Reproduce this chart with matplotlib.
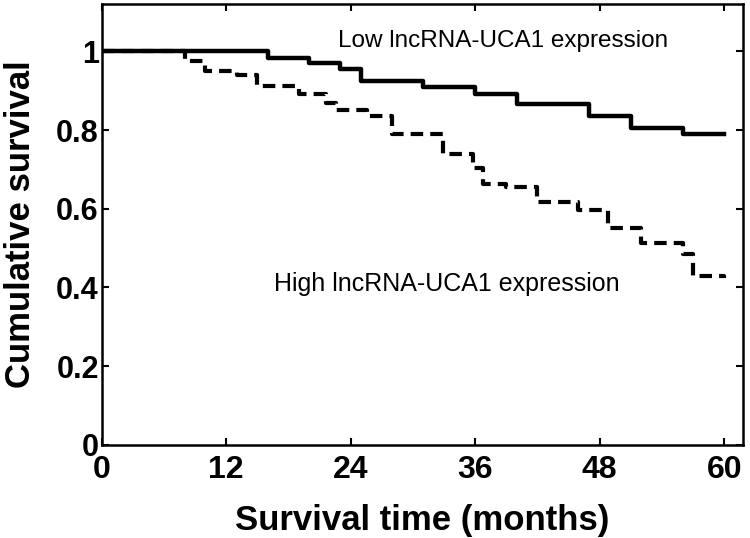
import numpy as np
import matplotlib.pyplot as plt

plt.rcParams['font.family'] = ['Liberation Sans', 'DejaVu Sans']

# Kaplan-Meier step data (months, cumulative survival)
low_t = [0, 16, 20, 23, 25, 31, 36, 40, 47, 51, 56, 60]
low_s = [1.0, 0.982, 0.970, 0.954, 0.924, 0.909, 0.891, 0.866, 0.835, 0.805, 0.790, 0.790]

high_t = [0, 8, 10, 13, 15, 19, 21.6, 22.6, 25.6, 28, 32.9, 35.8, 36.8, 39,
          42, 45.9, 48.8, 52, 56, 57, 60]
high_s = [1.0, 0.975, 0.949, 0.940, 0.911, 0.891, 0.868, 0.850, 0.835, 0.790,
          0.739, 0.704, 0.664, 0.655, 0.616, 0.597, 0.552, 0.512, 0.486, 0.430, 0.425]

xticks = [0, 12, 24, 36, 48, 60]
yticks = [0, 0.2, 0.4, 0.6, 0.8, 1]
ytick_labels = ['0', '0.2', '0.4', '0.6', '0.8', '1']

fig = plt.figure(figsize=(7.5, 5.38), dpi=100)
ax = fig.add_axes([0.1355, 0.173, 0.855, 0.8195])

ax.step(high_t, high_s, where='post', color='black', lw=3,
        linestyle=(0, (3, 1.7)))
ax.step(low_t, low_s, where='post', color='black', lw=3.2)

ax.set_xlim(0, 61.8)
ax.set_ylim(0, 1.12)
ax.set_xticks(xticks)
ax.set_yticks(yticks)
ax.set_yticklabels(ytick_labels)

ax.tick_params(direction='in', length=5, width=1.5, top=True, right=True)
ax.tick_params(axis='x', pad=7, labelsize=23)
ax.tick_params(axis='y', pad=2, labelsize=22)
for lab in ax.get_xticklabels() + ax.get_yticklabels():
    lab.set_fontweight('bold')
for lab in ax.get_yticklabels():
    lab.set_verticalalignment('center_baseline')
for sp in ax.spines.values():
    sp.set_linewidth(1.8)

ax.text(38.7, 1.025, 'Low lncRNA-UCA1 expression', fontsize=17.5,
        ha='center', va='center')
ax.text(33.3, 0.41, 'High lncRNA-UCA1 expression', fontsize=18,
        ha='center', va='center')

ax.set_xlabel('Survival time (months)', fontsize=25, fontweight='bold',
              labelpad=14)
ax.set_ylabel('Cumulative survival', fontsize=25, fontweight='bold',
              labelpad=14)

plt.savefig('out.png', dpi=100)
